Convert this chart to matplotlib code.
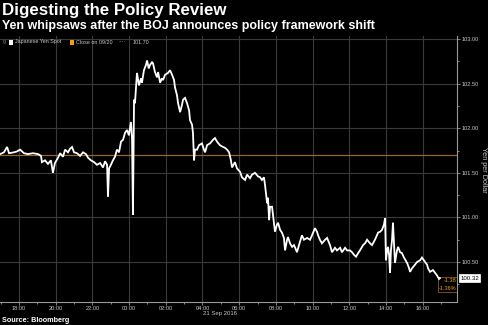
import matplotlib
matplotlib.use("Agg")
import matplotlib.pyplot as plt
from matplotlib.patches import Rectangle
from matplotlib.ticker import FixedLocator, MultipleLocator

# USD/JPY spot, hours counted from 20 Sep 2016 00:00
hours = [
    16.97, 17.18, 17.35, 17.46, 17.73, 17.89, 18.06, 18.27, 18.49, 18.76,
    19.04, 19.20, 19.25, 19.42, 19.58, 19.74, 19.85, 19.96, 20.13, 20.24,
    20.40, 20.51, 20.67, 20.78, 20.89, 21.00, 21.16, 21.33, 21.49, 21.65,
    21.76, 21.92, 22.09, 22.25, 22.42, 22.58, 22.69, 22.80, 22.85, 22.91,
    23.01, 23.12, 23.23, 23.34, 23.45, 23.56, 23.67, 23.78, 23.89, 23.99,
    24.10, 24.16, 24.21, 24.27, 24.32, 24.43, 24.54, 24.65, 24.70, 24.81,
    24.92, 24.98, 25.07, 25.14, 25.25, 25.30, 25.41, 25.52, 25.58, 25.69,
    25.79, 25.85, 25.96, 26.12, 26.23, 26.34, 26.45, 26.50, 26.61, 26.67,
    26.78, 26.88, 26.94, 27.05, 27.16, 27.27, 27.32, 27.43, 27.48, 27.54,
    27.59, 27.70, 27.81, 27.97, 28.08, 28.14, 28.25, 28.41, 28.57, 28.68,
    28.79, 28.95, 29.12, 29.23, 29.34, 29.45, 29.55, 29.61, 29.77, 29.88,
    30.05, 30.15, 30.32, 30.43, 30.59, 30.70, 30.86, 31.03, 31.14, 31.24,
    31.35, 31.41, 31.52, 31.57, 31.63, 31.68, 31.79, 31.84, 31.95, 32.06,
    32.12, 32.23, 32.33, 32.44, 32.50, 32.61, 32.66, 32.77, 32.88, 32.99,
    33.15, 33.26, 33.42, 33.53, 33.70, 33.86, 33.97, 34.13, 34.24, 34.30,
    34.40, 34.51, 34.68, 34.79, 34.95, 35.06, 35.22, 35.33, 35.50, 35.60,
    35.77, 35.88, 36.04, 36.15, 36.26, 36.37, 36.48, 36.58, 36.75, 36.86,
    36.97, 37.13, 37.24, 37.40, 37.57, 37.68, 37.78, 37.89, 37.95, 38.00,
    38.06, 38.11, 38.17, 38.22, 38.27, 38.33, 38.38, 38.44, 38.49, 38.60,
    38.66, 38.77, 38.87, 38.98, 39.15, 39.26, 39.31, 39.42, 39.58, 39.69,
    39.86, 39.96, 40.13, 40.24, 40.29, 40.40, 40.56, 40.67, 40.78, 40.89,
    40.94,
]
yen = [
    101.71, 101.73, 101.79, 101.72, 101.73, 101.74, 101.76, 101.72, 101.71, 101.72,
    101.71, 101.69, 101.62, 101.64, 101.60, 101.64, 101.50, 101.61, 101.67, 101.72,
    101.68, 101.76, 101.73, 101.77, 101.79, 101.73, 101.72, 101.69, 101.73, 101.71,
    101.67, 101.64, 101.62, 101.59, 101.61, 101.56, 101.63, 101.59, 101.23, 101.55,
    101.59, 101.64, 101.68, 101.76, 101.73, 101.85, 101.87, 101.95, 101.98, 101.92,
    102.07, 101.89, 101.03, 102.32, 102.28, 102.62, 102.48, 102.56, 102.51, 102.65,
    102.71, 102.76, 102.67, 102.71, 102.74, 102.73, 102.63, 102.57, 102.63, 102.51,
    102.56, 102.54, 102.60, 102.62, 102.65, 102.60, 102.54, 102.46, 102.37, 102.28,
    102.18, 102.26, 102.32, 102.34, 102.28, 102.20, 102.09, 102.04, 101.95, 101.64,
    101.76, 101.76, 101.81, 101.83, 101.76, 101.73, 101.81, 101.83, 101.87, 101.89,
    101.85, 101.81, 101.79, 101.78, 101.76, 101.73, 101.64, 101.56, 101.62, 101.55,
    101.51, 101.45, 101.42, 101.48, 101.44, 101.48, 101.50, 101.46, 101.45, 101.42,
    101.45, 101.36, 101.16, 101.22, 100.97, 101.12, 101.12, 101.03, 100.84, 100.92,
    100.94, 100.86, 100.83, 100.77, 100.63, 100.75, 100.78, 100.71, 100.67, 100.69,
    100.61, 100.69, 100.80, 100.75, 100.77, 100.75, 100.80, 100.88, 100.84, 100.80,
    100.75, 100.71, 100.75, 100.77, 100.69, 100.61, 100.66, 100.63, 100.66, 100.61,
    100.66, 100.63, 100.63, 100.61, 100.58, 100.56, 100.60, 100.63, 100.69, 100.71,
    100.75, 100.71, 100.69, 100.75, 100.83, 100.84, 100.86, 100.92, 100.99, 100.52,
    100.63, 100.67, 100.58, 100.38, 100.63, 100.75, 100.94, 100.69, 100.49, 100.63,
    100.67, 100.61, 100.60, 100.55, 100.49, 100.43, 100.39, 100.43, 100.47, 100.50,
    100.52, 100.55, 100.50, 100.47, 100.43, 100.39, 100.41, 100.38, 100.35, 100.31,
    100.32,
]
prev_close = 101.70
last_price = 100.32
net_change = "-1.38"
pct_change = "-1.36%"

x_tick_hours = [18, 20, 22, 24, 26, 28, 30, 32, 34, 36, 38, 40]
x_tick_labels = ["18:00", "20:00", "22:00", "00:00", "02:00", "04:00",
                 "06:00", "08:00", "10:00", "12:00", "14:00", "16:00"]
y_ticks = [100.5, 101.0, 101.5, 102.0, 102.5, 103.0]
y_tick_labels = ["100.50", "101.00", "101.50", "102.00", "102.50", "103.00"]

BG = "#000000"
GRID = "#3a3a3a"
TXT = "#c8c8c8"
ORANGE = "#f39c12"
CLOSE_LINE = "#9a6228"
FONT = "Liberation Sans"

W, H = 488, 325
fig = plt.figure(figsize=(W / 100, H / 100), dpi=100, facecolor=BG)
ax = fig.add_axes([0.0, 1 - 302 / H, 457 / W, (302 - 36) / H], facecolor=BG)

ax.set_xlim(16.965, 41.87)
ax.set_ylim(100.052, 103.034)

ax.grid(True, which="major", color=GRID, lw=0.8)
ax.set_axisbelow(True)

ax.axhline(prev_close, color=CLOSE_LINE, lw=0.9, zorder=2)
ax.plot(hours, yen, color="white", lw=1.3, solid_joinstyle="miter", zorder=3)

for side in ("left", "top"):
    ax.spines[side].set_visible(False)
for side in ("right", "bottom"):
    ax.spines[side].set_color("#9a9a9a")
    ax.spines[side].set_linewidth(0.8)

ax.yaxis.tick_right()
ax.xaxis.set_major_locator(FixedLocator(x_tick_hours))
ax.xaxis.set_minor_locator(MultipleLocator(1))
ax.set_xticklabels(x_tick_labels)
ax.yaxis.set_major_locator(FixedLocator(y_ticks))
ax.yaxis.set_minor_locator(MultipleLocator(0.25))
ax.set_yticklabels(y_tick_labels)
ax.tick_params(which="both", colors="#9a9a9a", labelcolor=TXT, labelsize=4.1, width=0.6)
ax.tick_params(which="major", length=2, pad=1.0)
ax.tick_params(which="minor", length=1.2)
for lbl in ax.get_xticklabels() + ax.get_yticklabels():
    lbl.set_fontfamily(FONT)

# date under the time axis and right-hand axis label
fig.text(220 / W, 1 - 314 / H, "21 Sep 2016", color=TXT, fontsize=4.3,
         family=FONT, ha="center", va="center")
fig.text(483.5 / W, 1 - 170 / H, "Yen per Dollar", color=TXT, fontsize=5.2,
         family=FONT, ha="center", va="center", rotation=270)

# titles and source
fig.text(2 / W, 1 - 10 / H, "Digesting the Policy Review", color="white",
         fontsize=12.2, fontweight="bold", family=FONT, va="center", ha="left")
fig.text(2 / W, 1 - 26 / H, "Yen whipsaws after the BOJ announces policy framework shift",
         color="white", fontsize=9.0, fontweight="bold", family=FONT, va="center", ha="left")
fig.text(2 / W, 1 - 320 / H, "Source: Bloomberg", color="white", fontsize=5.2,
         fontweight="bold", family=FONT, va="center", ha="left")

# legend strip
ly = 1 - 42 / H
LEG = 3.9
fig.text(3 / W, ly, "9", color="#8a8a8a", fontsize=LEG, family=FONT, va="center")
fig.patches.append(Rectangle((9 / W, 1 - 44.5 / H), 4 / W, 4 / H, transform=fig.transFigure,
                             facecolor="white", edgecolor="none"))
fig.text(15 / W, ly, "Japanese Yen Spot", color=TXT, fontsize=LEG, family=FONT, va="center")
fig.patches.append(Rectangle((70 / W, 1 - 44.5 / H), 4 / W, 4 / H, transform=fig.transFigure,
                             facecolor=ORANGE, edgecolor="none"))
fig.text(76 / W, ly, "Close on 09/20", color=TXT, fontsize=LEG, family=FONT, va="center")
fig.text(118 / W, ly, "····", color=TXT, fontsize=LEG, family=FONT, va="center")
fig.text(133 / W, ly, f"{prev_close:.2f}", color=TXT, fontsize=LEG, family=FONT, va="center")

# last price tag and change box
ax.annotate(f"{last_price:.2f}", xy=(1.0, last_price), xycoords=("axes fraction", "data"),
            xytext=(2.5, 0), textcoords="offset points", ha="left", va="center",
            fontsize=4.4, family=FONT, color="black",
            bbox=dict(boxstyle="square,pad=0.2", fc="white", ec="white", lw=0.5))
ax.text(0.998, 1 - (281 - 36) / (302 - 36), net_change, transform=ax.transAxes,
        ha="right", va="center", fontsize=4.0, family=FONT, color=ORANGE)
ax.text(0.998, 1 - (288 - 36) / (302 - 36), pct_change, transform=ax.transAxes,
        ha="right", va="center", fontsize=4.0, family=FONT, color=ORANGE)
ax.add_patch(Rectangle((1 - 19 / 457, 1 - (292 - 36) / (302 - 36)), 19 / 457, 15 / (302 - 36),
                       transform=ax.transAxes, facecolor="none", edgecolor="#8a5a1e",
                       lw=0.6, clip_on=False))

fig.savefig("out.png", dpi=100, facecolor=BG)
